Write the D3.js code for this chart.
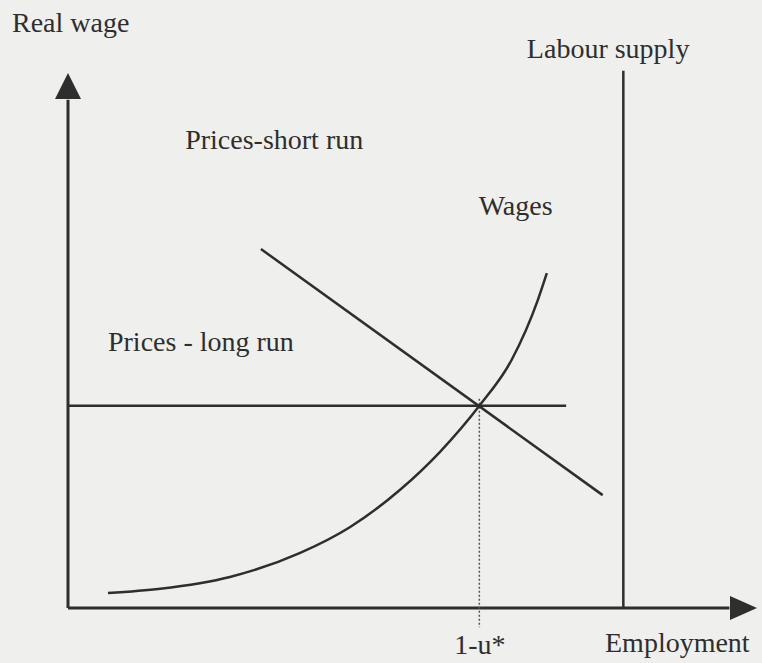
<!DOCTYPE html>
<html>
<head>
<meta charset="utf-8">
<script src="https://cdn.jsdelivr.net/npm/d3@7"></script>
<style>
	body { margin: 0; background: #efefed; }
	svg { display: block; }
</style>
</head>
<body>
<svg id="chart"></svg>
<script>
// values in diagram units (0..100 on both axes)
const wagesCurve = [
	[5.8, 2.8], [13.4, 3.6], [23.5, 5.8], [33.7, 10.3], [40.9, 15.1],
	[48.2, 22.1], [54.0, 29.2], [59.7, 37.8], [64.4, 46.4], [68.2, 57.6], [69.5, 62.6]
];
const shortRunPrices = [[28.0, 67.1], [77.6, 21.1]];
const longRunPrices = [[0, 37.8], [72.3, 37.8]];
const labourSupply = [[80.6, 0], [80.6, 100.4]];
const equilibrium = [59.7, 37.8];
const tickLabels = ["1-u*"];
const curveLabels = [
	{ text: "Prices-short run", at: [17.0, 85.8] },
	{ text: "Wages", at: [59.6, 73.4] },
	{ text: "Prices - long run", at: [5.8, 48.0] },
	{ text: "Labour supply", at: [66.6, 102.8] }
];

const width = 762, height = 663;
const serif = "Liberation Serif";
const svg = d3.select("#chart").attr("width", width).attr("height", height);

const x = d3.scaleLinear().domain([0, 100]).range([68, 757]);
const y = d3.scaleLinear().domain([0, 100]).range([608, 73]);

const ink = "#2e2e2e";
const line = d3.line().x(d => x(d[0])).y(d => y(d[1]));

// axes with arrow heads
svg.append("path")
	.attr("d", line([[0, 0], [0, 95]]))
	.attr("stroke", ink).attr("stroke-width", 3).attr("fill", "none");
svg.append("path")
	.attr("d", line([[0, 0], [96, 0]]))
	.attr("stroke", ink).attr("stroke-width", 3).attr("fill", "none");
svg.append("path")
	.attr("d", `M${x(0)},${y(100)} L${x(0) - 13},${y(100) + 26} L${x(0) + 13},${y(100) + 26} Z`)
	.attr("fill", ink);
svg.append("path")
	.attr("d", `M${x(100)},${y(0)} L${x(100) - 27},${y(0) - 12} L${x(100) - 27},${y(0) + 12} Z`)
	.attr("fill", ink);

// dotted drop line at equilibrium
svg.append("path")
	.attr("d", line([[equilibrium[0], equilibrium[1] + 1.3], [equilibrium[0], -3.6]]))
	.attr("stroke", "#555").attr("stroke-width", 1.5)
	.attr("stroke-dasharray", "2,2").attr("fill", "none");

// x-axis tick label
const xAxis = d3.axisBottom(x)
	.tickValues([equilibrium[0]])
	.tickFormat(() => tickLabels[0])
	.tickSize(0)
	.tickPadding(26);
const gx = svg.append("g").attr("transform", `translate(0,${y(0)})`).call(xAxis);
gx.select(".domain").remove();
gx.attr("font-family", serif).attr("font-size", 28);
gx.selectAll("text").attr("fill", ink);

// curves
const drawLine = (pts, gen) => svg.append("path")
	.attr("d", (gen || line)(pts))
	.attr("stroke", ink).attr("stroke-width", 2.5).attr("fill", "none");

drawLine(longRunPrices);
drawLine(shortRunPrices);
drawLine(labourSupply);
drawLine(wagesCurve, d3.line().x(d => x(d[0])).y(d => y(d[1])).curve(d3.curveMonotoneX));

// text labels
const label = (px, py, t) => svg.append("text")
	.attr("x", px).attr("y", py)
	.attr("font-family", serif).attr("font-size", 28)
	.attr("fill", ink).text(t);

label(12, 32, "Real wage");
label(605, 652, "Employment");
curveLabels.forEach(l => label(x(l.at[0]), y(l.at[1]), l.text));
</script>
</body>
</html>
